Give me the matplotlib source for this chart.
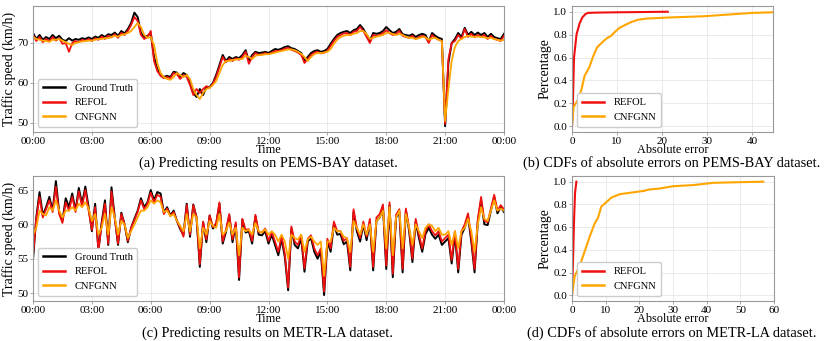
import numpy as np
import matplotlib
matplotlib.use("Agg")
import matplotlib.pyplot as plt

plt.rcParams['font.family'] = ['Liberation Serif', 'DejaVu Serif']
plt.rcParams['mathtext.fontset'] = 'stix'

# ---------------- data ----------------
time_labels = ["00:00", "03:00", "06:00", "09:00", "12:00", "15:00", "18:00", "21:00", "00:00"]
tick_hours = [0, 3, 6, 9, 12, 15, 18, 21, 24]

# PEMS-BAY (10-minute samples, 00:00 -> 24:00)
pems_gt = [
    72.5, 71.0, 72.0, 70.8, 71.5, 71.0,
    72.0, 71.2, 71.8, 70.8, 70.5, 71.2,
    70.6, 71.0, 70.8, 71.2, 71.0, 71.4,
    71.0, 71.6, 71.3, 72.0, 71.5, 72.2,
    72.0, 72.6, 71.8, 73.0, 72.4, 73.5,
    75.0, 77.6, 76.5, 72.5, 71.5, 71.8,
    72.4, 66.5, 63.5, 62.0, 61.5, 61.8,
    61.5, 62.8, 62.6, 61.5, 62.5, 62.0,
    60.0, 57.5, 56.5, 58.5, 57.0, 59.0,
    59.0, 60.0, 62.0, 64.5, 67.0, 65.5,
    66.5, 66.0, 66.5, 66.2, 67.0, 68.2,
    65.5, 67.0, 67.8, 67.5, 67.6, 67.8,
    67.5, 68.0, 68.5, 68.3, 68.6, 69.0,
    69.2, 68.7, 68.5, 68.0, 67.5, 65.5,
    66.5, 67.5, 68.0, 68.2, 67.8, 68.0,
    68.5, 69.8, 71.0, 72.0, 72.5, 72.8,
    73.0, 72.5, 73.2, 73.5, 74.5, 73.5,
    72.0, 70.5, 72.5, 72.3, 72.5, 73.0,
    74.0, 73.2, 72.5, 72.8, 73.5, 72.2,
    72.0, 71.8, 72.2, 71.5, 72.0, 72.3,
    72.0, 70.3, 72.5, 71.8, 71.3, 71.0,
    49.2, 65.0, 70.0, 71.0, 72.5, 71.5,
    73.8, 72.0, 72.8, 72.0, 72.6, 72.0,
    72.5, 71.5, 72.3, 71.5, 71.2, 71.0, 72.3,
]
pems_refol = [
    72.0, 70.5, 71.5, 70.2, 71.0, 70.4,
    71.5, 70.6, 71.2, 69.8, 70.0, 67.8,
    70.0, 70.5, 70.2, 70.8, 70.5, 71.0,
    70.5, 71.2, 70.8, 71.6, 71.0, 71.8,
    71.4, 72.2, 71.3, 72.5, 72.0, 73.0,
    74.5, 76.5, 75.5, 72.0, 71.0, 71.5,
    73.0, 65.5, 63.0, 61.8, 61.2, 61.5,
    61.2, 62.5, 62.2, 61.0, 62.0, 61.5,
    59.5, 57.0, 58.5, 57.5, 58.5, 59.2,
    58.8, 59.8, 61.5, 64.0, 66.5, 65.2,
    66.0, 65.5, 66.2, 65.8, 66.5, 67.8,
    64.8, 66.5, 67.5, 67.0, 67.2, 67.5,
    67.2, 67.6, 68.0, 68.0, 68.2, 68.6,
    68.8, 68.3, 68.0, 67.6, 67.0, 65.0,
    66.0, 67.0, 67.6, 67.8, 67.4, 67.6,
    68.0, 69.3, 70.5, 71.5, 72.0, 72.4,
    72.5, 72.0, 72.8, 73.0, 74.0, 73.0,
    71.5, 70.0, 72.0, 71.8, 72.0, 72.5,
    73.2, 72.5, 72.0, 72.3, 73.0, 71.8,
    71.5, 71.3, 71.8, 71.0, 71.5, 71.8,
    71.5, 70.0, 72.0, 71.3, 70.8, 70.5,
    49.8, 66.0, 70.0, 70.5, 72.0, 71.0,
    73.5, 71.5, 72.3, 71.5, 72.0, 71.5,
    72.0, 71.0, 71.8, 71.0, 70.8, 70.5, 71.8,
]
pems_cnfgnn = [
    71.5, 71.0, 70.8, 70.6, 70.5, 70.3,
    70.8, 70.8, 71.0, 70.6, 70.2, 69.8,
    69.5, 70.0, 70.2, 70.4, 70.5, 70.6,
    70.6, 70.8, 71.0, 71.0, 71.2, 71.2,
    71.5, 71.8, 71.6, 72.0, 72.2, 72.5,
    73.0, 74.0, 75.0, 74.0, 72.0, 71.3,
    71.5, 69.5, 65.0, 62.5, 61.5, 61.0,
    60.8, 61.5, 62.5, 62.0, 61.5, 62.0,
    61.0, 58.5, 57.0, 56.0, 57.5, 58.5,
    58.8, 59.5, 60.5, 62.5, 64.5, 65.5,
    65.5, 65.8, 65.8, 66.0, 66.0, 66.8,
    66.5, 66.0, 66.8, 67.0, 67.0, 67.2,
    67.2, 67.4, 67.6, 67.8, 68.0, 68.2,
    68.4, 68.4, 68.2, 67.8, 67.3, 66.5,
    65.5, 66.5, 67.2, 67.5, 67.5, 67.6,
    67.8, 68.5, 69.8, 70.8, 71.5, 71.8,
    72.0, 72.0, 72.3, 72.5, 73.0, 73.0,
    72.2, 71.0, 71.3, 71.6, 71.8, 72.0,
    72.5, 72.6, 72.2, 72.0, 72.3, 72.0,
    71.6, 71.3, 71.3, 71.0, 71.2, 71.5,
    71.4, 70.8, 71.2, 71.3, 70.8, 70.5,
    50.5, 58.5, 65.5, 69.0, 70.5, 71.0,
    71.5, 71.8, 71.6, 71.5, 71.6, 71.5,
    71.4, 71.2, 71.3, 71.0, 70.8, 70.6, 70.8,
]

# METR-LA (10-minute samples, 00:00 -> 24:00)
metr_gt = [
    54.8, 61.0, 64.7, 61.3, 62.5, 64.0,
    62.0, 66.3, 61.8, 60.5, 63.8, 62.5,
    64.5, 62.0, 65.3, 63.0, 65.5, 62.5,
    59.0, 63.0, 56.2, 60.3, 63.5, 57.0,
    65.4, 61.0, 57.0, 61.7, 60.0, 57.4,
    59.5, 60.8, 62.0, 63.8, 62.5, 63.2,
    65.0, 63.5, 64.7, 64.5, 61.7, 62.5,
    61.3, 62.0, 60.5, 59.3, 58.5, 63.0,
    58.2, 62.9, 61.0, 53.8, 60.3, 57.4,
    61.3, 59.4, 60.0, 63.0, 57.2, 58.9,
    61.3, 57.4, 60.0, 51.9, 60.7, 58.8,
    59.0, 57.2, 61.2, 58.5, 58.4, 59.0,
    57.2, 58.5, 57.0, 55.5, 57.9, 55.2,
    50.4, 59.4, 57.0, 56.5, 58.0, 53.1,
    57.5, 58.0, 56.0, 55.0, 56.0, 49.7,
    57.5, 56.0, 60.0, 58.5, 58.6, 57.1,
    57.5, 53.3, 61.8, 59.0, 57.5, 60.0,
    57.7, 60.4, 53.3, 60.5, 61.0, 62.5,
    53.5, 62.8, 52.3, 61.0, 61.8, 53.0,
    62.0, 59.0, 54.5, 60.4, 58.0, 56.0,
    58.6, 59.5, 58.5, 57.9, 58.5, 57.0,
    57.5, 58.0, 54.3, 58.5, 53.0, 58.5,
    59.5, 61.2, 57.5, 53.0, 60.4, 63.5,
    60.0, 59.9, 62.0, 64.0, 61.6, 62.5, 61.8,
]
metr_refol = [
    55.5, 60.8, 64.0, 61.0, 62.2, 63.5,
    61.8, 65.5, 61.5, 60.2, 63.2, 62.0,
    64.0, 61.8, 64.8, 62.6, 65.0, 62.0,
    59.2, 62.5, 56.2, 60.0, 63.0, 57.2,
    64.8, 60.8, 57.2, 61.5, 60.0, 57.6,
    59.5, 60.6, 61.8, 63.5, 62.2, 63.0,
    64.6, 63.2, 64.3, 64.0, 61.5, 62.3,
    61.2, 61.8, 60.5, 59.5, 58.2, 62.8,
    58.5, 62.8, 61.0, 54.2, 60.4, 57.8,
    61.3, 59.6, 60.2, 63.2, 57.5, 59.2,
    61.5, 57.8, 60.3, 52.3, 60.8, 59.2,
    59.3, 57.6, 61.4, 58.9, 58.8, 59.4,
    57.6, 58.9, 57.5, 56.0, 58.3, 55.7,
    50.8, 59.7, 57.5, 57.0, 58.4, 53.6,
    57.9, 58.4, 56.5, 55.5, 56.5, 50.2,
    57.9, 56.5, 60.4, 59.0, 59.0, 57.6,
    58.0, 53.8, 62.2, 59.5, 58.0, 60.4,
    58.2, 60.8, 53.8, 61.0, 61.5, 62.9,
    54.0, 63.2, 52.8, 61.4, 62.2, 53.5,
    62.3, 59.5, 55.0, 60.8, 58.5, 56.5,
    59.0, 60.0, 59.0, 58.4, 59.0, 57.5,
    58.0, 58.5, 54.8, 59.0, 53.5, 59.0,
    60.0, 61.6, 58.0, 53.5, 60.8, 64.0,
    60.5, 60.3, 62.3, 64.3, 62.0, 62.8, 62.2,
]
metr_cnfgnn = [
    58.5, 59.5, 62.0, 61.5, 61.3, 62.5,
    62.0, 63.5, 62.0, 61.0, 62.0, 62.0,
    62.5, 62.0, 63.0, 62.5, 63.2, 62.3,
    60.5, 61.5, 58.5, 59.5, 61.5, 58.5,
    62.5, 61.0, 58.5, 60.5, 60.0, 58.0,
    59.0, 60.0, 61.0, 62.0, 62.0, 62.5,
    63.5, 63.0, 63.5, 63.2, 61.8, 62.0,
    61.2, 61.5, 60.5, 59.8, 59.0, 61.5,
    59.0, 61.5, 61.0, 56.5, 59.5, 58.5,
    60.5, 59.8, 59.5, 61.5, 58.5, 59.0,
    60.3, 58.5, 59.5, 55.5, 59.5, 59.0,
    59.2, 58.5, 60.2, 59.0, 58.8, 59.3,
    58.5, 59.0, 58.5, 57.5, 58.5, 57.5,
    55.0, 58.5, 58.0, 57.8, 58.5, 56.0,
    57.8, 58.2, 57.5, 57.0, 57.5, 52.5,
    57.5, 57.5, 59.5, 59.0, 59.0, 58.2,
    58.0, 56.0, 60.5, 59.5, 58.5, 60.0,
    58.5, 60.0, 56.0, 60.5, 61.0, 62.0,
    56.5, 62.5, 55.5, 61.0, 62.0, 56.5,
    61.5, 59.5, 57.0, 60.0, 59.0, 58.0,
    59.5, 60.0, 59.8, 59.0, 59.5, 58.5,
    58.5, 59.0, 57.0, 59.0, 56.5, 59.0,
    59.5, 60.8, 59.0, 56.0, 60.0, 62.5,
    60.8, 60.5, 62.0, 63.5, 62.0, 62.3, 62.0,
]

# CDFs of absolute errors
pems_refol_err = [0, 0.2, 0.45, 1.0, 1.7, 2.3, 3.0, 3.6, 5.0, 10.0, 15.0, 21.3]
pems_refol_cdf = [0, 0.2, 0.6, 0.8, 0.9, 0.95, 0.98, 0.99, 0.992, 0.995, 0.997, 1.0]
pems_cnf_err = [0, 0.37, 1.3, 2.1, 2.8, 3.9, 4.7, 5.6, 6.9, 7.8, 8.7, 9.7, 10.6, 12.1,
                13.2, 14.7, 16.5, 21.7, 29.1, 36.5, 40.2, 44.7]
pems_cnf_cdf = [0, 0.17, 0.23, 0.32, 0.44, 0.52, 0.61, 0.69, 0.74, 0.77, 0.79, 0.83, 0.86, 0.89,
                0.91, 0.93, 0.94, 0.95, 0.96, 0.98, 0.99, 0.995]
metr_refol_err = [0, 0.3, 0.6, 0.9, 1.3]
metr_refol_cdf = [0, 0.3, 0.65, 0.9, 1.0]
metr_cnf_err = [0, 0.8, 2.3, 3.8, 5.3, 6.7, 7.7, 8.7, 10.2, 11.7, 14.2, 19.1, 21.6, 22.6,
                26.1, 30.0, 36.0, 42.0, 48.9, 56.8]
metr_cnf_cdf = [0, 0.17, 0.26, 0.39, 0.52, 0.63, 0.68, 0.78, 0.82, 0.86, 0.89, 0.91, 0.92, 0.93,
                0.94, 0.96, 0.97, 0.99, 0.995, 1.0]

# ---------------- styling ----------------
C_GT = "black"
C_RE = "#f01010"
C_CN = "#ffa500"
SPINE = "#999999"
GRID = "#e6e6e6"
TICK_FS = 8.0
XLAB_FS = 8.8
YLAB_FS = 10.0
LEG_FS = 7.6
CAP_FS = 10.4

fig = plt.figure(figsize=(8.3, 3.41), dpi=100)
W, H = 830.0, 341.0


def add_ax(l, r, t, b):
    return fig.add_axes([l / W, 1 - b / H, (r - l) / W, (b - t) / H])


def style(ax):
    for s in ax.spines.values():
        s.set_color(SPINE)
        s.set_linewidth(0.8)
    ax.grid(True, color=GRID, linewidth=0.6)
    ax.set_axisbelow(True)
    ax.tick_params(labelsize=TICK_FS, length=2.5, width=0.6, color=SPINE, pad=1.0)


def add_legend(ax):
    leg = ax.legend(loc="lower left", fontsize=LEG_FS, handlelength=2.1, framealpha=1,
                    edgecolor="#cccccc", borderpad=0.45, labelspacing=0.5,
                    handletextpad=0.9)
    for ln in leg.get_lines():
        ln.set_linewidth(1.8)


def ts_panel(ax, gt, refol, cnf, ylim, yticks):
    hours = np.arange(len(gt)) / 6.0
    ax.plot(hours, gt, color=C_GT, lw=1.4, label="Ground Truth")
    ax.plot(hours, refol, color=C_RE, lw=1.3, label="REFOL")
    ax.plot(hours, cnf, color=C_CN, lw=1.3, label="CNFGNN")
    ax.set_xlim(0, 24)
    ax.set_ylim(*ylim)
    ax.set_xticks(tick_hours)
    ax.set_xticklabels(time_labels)
    ax.set_yticks(yticks)
    ax.set_xlabel("Time", fontsize=XLAB_FS, labelpad=-1)
    ax.set_ylabel("Traffic speed (km/h)", fontsize=YLAB_FS, labelpad=1)
    style(ax)
    add_legend(ax)


def cdf_panel(ax, re_e, re_c, cn_e, cn_c, xlim, xticks):
    ax.plot(re_e, re_c, color=C_RE, lw=1.5, label="REFOL")
    ax.plot(cn_e, cn_c, color=C_CN, lw=1.5, label="CNFGNN")
    ax.set_xlim(*xlim)
    ax.set_ylim(-0.05, 1.05)
    ax.set_xticks(xticks)
    ax.set_yticks([0.0, 0.2, 0.4, 0.6, 0.8, 1.0])
    ax.set_xlabel("Absolute error", fontsize=XLAB_FS, labelpad=-1)
    ax.set_ylabel("Percentage", fontsize=YLAB_FS, labelpad=1)
    style(ax)
    add_legend(ax)


ax_a = add_ax(33, 504, 6, 132)
ts_panel(ax_a, pems_gt, pems_refol, pems_cnfgnn, (47.75, 79.25), [50, 60, 70])

ax_b = add_ax(572, 773, 6, 132)
cdf_panel(ax_b, pems_refol_err, pems_refol_cdf, pems_cnf_err, pems_cnf_cdf,
          (0, 44.7), [0, 10, 20, 30, 40])

ax_c = add_ax(33, 504, 176, 301)
ts_panel(ax_c, metr_gt, metr_refol, metr_cnfgnn, (48.84, 67.04), [50, 55, 60, 65])

ax_d = add_ax(572, 774, 176, 301)
cdf_panel(ax_d, metr_refol_err, metr_refol_cdf, metr_cnf_err, metr_cnf_cdf,
          (0, 60), [0, 10, 20, 30, 40, 50, 60])

fig.text(268 / W, 1 - 163 / H, "(a) Predicting results on PEMS-BAY dataset.",
         ha="center", va="center", fontsize=CAP_FS)
fig.text(672 / W, 1 - 163 / H, "(b) CDFs of absolute errors on PEMS-BAY dataset.",
         ha="center", va="center", fontsize=CAP_FS)
fig.text(268 / W, 1 - 333 / H, "(c) Predicting results on METR-LA dataset.",
         ha="center", va="center", fontsize=CAP_FS)
fig.text(672 / W, 1 - 333 / H, "(d) CDFs of absolute errors on METR-LA dataset.",
         ha="center", va="center", fontsize=CAP_FS)

fig.savefig("out.png", dpi=100)
